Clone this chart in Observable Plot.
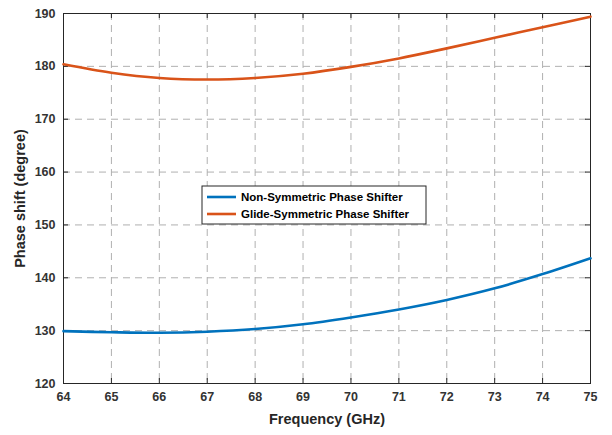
<!DOCTYPE html>
<html>
<head>
<meta charset="utf-8">
<script src="https://cdn.jsdelivr.net/npm/d3@7"></script>
<script src="https://cdn.jsdelivr.net/npm/@observablehq/plot@0.6"></script>
<style>
  html, body { margin: 0; padding: 0; background: #fff; }
  #chart { width: 612px; height: 435px; }
  svg { font-family: "Liberation Sans", Arial, sans-serif; }
</style>
</head>
<body>
<div id="chart"></div>
<script>
const freq = [64, 65, 66, 67, 68, 69, 70, 71, 72, 73, 74, 75];
const nonSymmetric = [129.9, 129.7, 129.6, 129.8, 130.3, 131.2, 132.5, 134.0, 135.8, 138.0, 140.7, 143.7];
const glideSymmetric = [180.4, 178.8, 177.8, 177.5, 177.8, 178.6, 179.9, 181.5, 183.4, 185.4, 187.4, 189.4];
const seriesNames = ["Non-Symmetric Phase Shifter", "Glide-Symmetric Phase Shifter"];
const seriesColors = ["#0072BD", "#D95319"];
const xTicks = [64, 65, 66, 67, 68, 69, 70, 71, 72, 73, 74, 75];
const yTicks = [120, 130, 140, 150, 160, 170, 180, 190];

const data = [];
freq.forEach((f, i) => {
  data.push({f, v: nonSymmetric[i], s: seriesNames[0]});
  data.push({f, v: glideSymmetric[i], s: seriesNames[1]});
});

const W = 612, H = 435;
const mL = 63, mR = 22, mT = 13, mB = 52;
const innerH = H - mT - mB, innerW = W - mL - mR;
const tk = 5;
const grid = {stroke: "#b0b0b0", strokeOpacity: 1, strokeDasharray: "7,5", strokeWidth: 1};

const chart = Plot.plot({
  width: W, height: H,
  marginLeft: mL, marginRight: mR, marginTop: mT, marginBottom: mB,
  style: {fontFamily: "'Liberation Sans', Arial, sans-serif", background: "#fff"},
  x: {domain: [64, 75]},
  y: {domain: [120, 190]},
  color: {domain: seriesNames, range: seriesColors},
  marks: [
    Plot.gridX(xTicks.slice(1, -1), grid),
    Plot.gridY(yTicks.slice(1, -1), grid),
    Plot.tickX(xTicks, {x: d => d, stroke: "#262626", insetTop: innerH - tk}),
    Plot.tickX(xTicks, {x: d => d, stroke: "#262626", insetBottom: innerH - tk}),
    Plot.tickY(yTicks, {y: d => d, stroke: "#262626", insetRight: innerW - tk}),
    Plot.tickY(yTicks, {y: d => d, stroke: "#262626", insetLeft: innerW - tk}),
    Plot.axisX(xTicks, {tickSize: 0, tickPadding: 9, fontSize: 12.5, fontWeight: "bold", fill: "#333", label: null}),
    Plot.axisY(yTicks, {tickSize: 0, tickPadding: 8, fontSize: 12.5, fontWeight: "bold", fill: "#333", label: null}),
    Plot.frame({stroke: "#262626", strokeWidth: 1}),
    Plot.line(data, {x: "f", y: "v", stroke: "s", z: "s", strokeWidth: 2.6, curve: "catmull-rom"}),
    Plot.text(["Frequency (GHz)"], {frameAnchor: "bottom", dy: 40, fontSize: 14.5, fontWeight: "bold", fill: "#262626"}),
    Plot.text(["Phase shift (degree)"], {frameAnchor: "left", textAnchor: "middle", dx: -43, rotate: -90, fontSize: 14.5, fontWeight: "bold", fill: "#262626"})
  ]
});
document.getElementById("chart").appendChild(chart);

// Legend box inside the plot area
const svg = d3.select(chart);
const lg = svg.append("g").attr("transform", "translate(202,186)");
lg.append("rect").attr("width", 224).attr("height", 38)
  .attr("fill", "#fff").attr("stroke", "#262626").attr("stroke-width", 1);
seriesNames.forEach((name, i) => {
  const y = 11 + i * 17;
  lg.append("line").attr("x1", 5).attr("x2", 34).attr("y1", y).attr("y2", y)
    .attr("stroke", seriesColors[i]).attr("stroke-width", 2.6);
  lg.append("text").attr("x", 39).attr("y", y).attr("dy", "0.35em")
    .attr("text-anchor", "start")
    .attr("font-size", 11.5).attr("font-weight", "bold").attr("fill", "#000")
    .attr("font-family", "'Liberation Sans', Arial, sans-serif")
    .text(name);
});
</script>
</body>
</html>
